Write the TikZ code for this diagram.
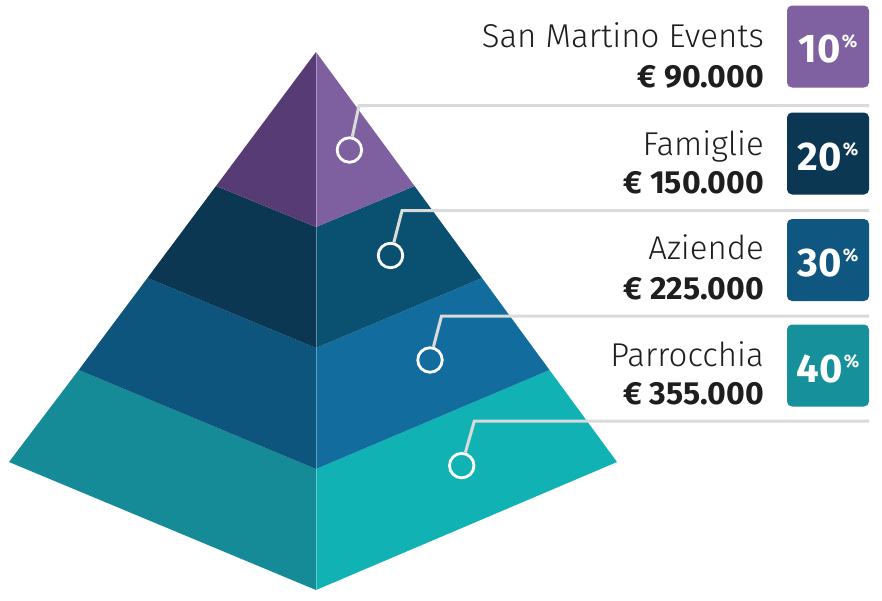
\documentclass[tikz,border=0pt]{standalone}
\usepackage{fontspec}
\setmainfont{Fira Sans}
\newfontfamily\lightfont{Fira Sans Light}
\definecolor{pL}{HTML}{563B75}
\definecolor{pR}{HTML}{7E60A1}
\definecolor{nL}{HTML}{0B3752}
\definecolor{nR}{HTML}{0A5070}
\definecolor{bL}{HTML}{0E557E}
\definecolor{bR}{HTML}{136C9E}
\definecolor{tL}{HTML}{148B96}
\definecolor{tR}{HTML}{11B2B4}
\definecolor{k1c}{HTML}{7F60A0}
\definecolor{k2c}{HTML}{0B3752}
\definecolor{k3c}{HTML}{0F5780}
\definecolor{k4c}{HTML}{16909A}
\definecolor{gline}{HTML}{DADADA}
\definecolor{txt}{HTML}{1E1E1E}
\tikzset{
  callout/.style={draw=gline, line width=3pt},
  dot/.style={circle, draw=white, line width=2.8pt, minimum size=24.5pt, inner sep=0pt},
  lbl/.style={anchor=base east, inner sep=0pt, text=txt, font=\lightfont\fontsize{33}{33}\selectfont},
  amt/.style={anchor=base east, inner sep=0pt, text=txt, font=\bfseries\fontsize{32}{32}\selectfont},
  badge/.style={rounded corners=5pt, minimum width=82pt, minimum height=82pt, inner sep=0pt},
  pct/.style={anchor=base, inner sep=0pt, text=white, font=\bfseries\fontsize{40}{40}\selectfont},
}
\newcommand{\pc}[1]{#1\kern1pt{\fontsize{18}{18}\selectfont\raisebox{15pt}{\%}}}
\begin{document}
\begin{tikzpicture}[x=1pt,y=-1pt]
\useasboundingbox (0,0) rectangle (882,600);
% pyramid points
\coordinate (A) at (316,52);
\coordinate (L0) at (9,462);   \coordinate (C0) at (316,590); \coordinate (R0) at (617,462);
\coordinate (L1) at (78.7,370); \coordinate (C1) at (316,469); \coordinate (R1) at (549.5,370);
\coordinate (L2) at (147.4,278); \coordinate (C2) at (316,348); \coordinate (R2) at (482,278);
\coordinate (L3) at (216,186); \coordinate (C3) at (316,227); \coordinate (R3) at (414.5,186);
% faces
\fill[tL] (L0) -- (C0) -- (C1) -- (L1) -- cycle;
\fill[tR] (C0) -- (R0) -- (R1) -- (C1) -- cycle;
\fill[bL] (L1) -- (C1) -- (C2) -- (L2) -- cycle;
\fill[bR] (C1) -- (R1) -- (R2) -- (C2) -- cycle;
\fill[nL] (L2) -- (C2) -- (C3) -- (L3) -- cycle;
\fill[nR] (C2) -- (R2) -- (R3) -- (C3) -- cycle;
\fill[pL] (L3) -- (C3) -- (A) -- cycle;
\fill[pR] (C3) -- (R3) -- (A) -- cycle;
\draw[white, opacity=0.35, line width=0.6pt] (A) -- (C0);
% callouts
\node[dot] (c1) at (349.4,150) {};
\node[dot] (c2) at (390.5,255.5) {};
\node[dot] (c3) at (430,360) {};
\node[dot] (c4) at (461.7,465.6) {};
\coordinate (b1) at (359,105.5);  \coordinate (e1) at (869,105.5);
\coordinate (b2) at (402,210.7);  \coordinate (e2) at (869,210.7);
\coordinate (b3) at (441.5,316);  \coordinate (e3) at (869,316);
\coordinate (b4) at (474.3,421);  \coordinate (e4) at (869,421);
\draw[callout] (e1) -- (b1) -- (c1);
\draw[callout] (e2) -- (b2) -- (c2);
\draw[callout] (e3) -- (b3) -- (c3);
\draw[callout] (e4) -- (b4) -- (c4);
% labels
\node[lbl] (n1) at (764,47) {San Martino Events};
\node[amt] (a1) at (764,87.5) {€ 90.000};
\node[lbl] (n2) at (764,155.5) {Famiglie};
\node[amt] (a2) at (764,193.5) {€ 150.000};
\node[lbl] (n3) at (764,259.5) {Aziende};
\node[amt] (a3) at (764,299.5) {€ 225.000};
\node[lbl] (n4) at (764,366) {Parrocchia};
\node[amt] (a4) at (764,404) {€ 355.000};
% badges
\node[badge, fill=k1c] (k1) at (828,46.5) {};
\node[badge, fill=k2c] (k2) at (828,153.5) {};
\node[badge, fill=k3c] (k3) at (828,260) {};
\node[badge, fill=k4c] (k4) at (828,365.5) {};
\node[pct] (p1) at (828,62.8) {\pc{10}};
\node[pct] (p2) at (828,170) {\pc{20}};
\node[pct] (p3) at (828,276.5) {\pc{30}};
\node[pct] (p4) at (828,382) {\pc{40}};
\end{tikzpicture}
\end{document}
